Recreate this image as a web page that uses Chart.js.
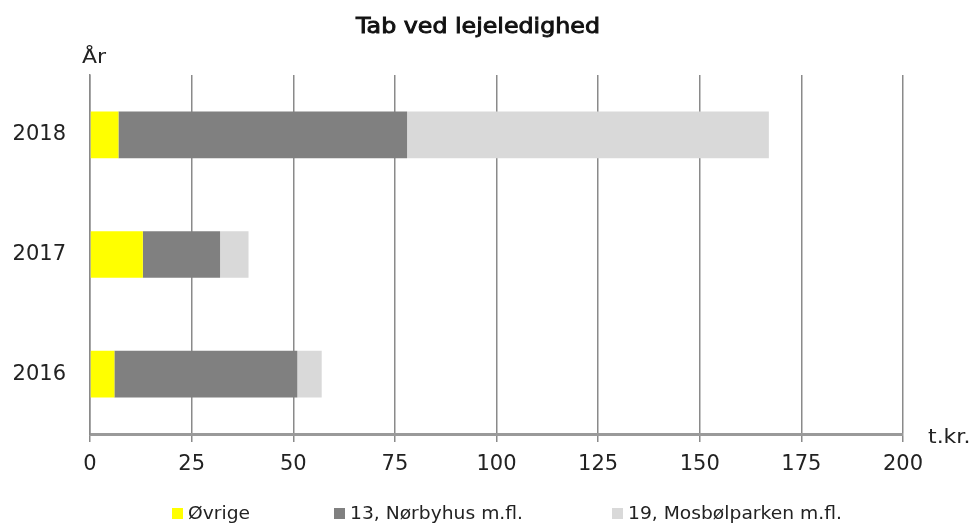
<!DOCTYPE html>
<html lang="da">
<head>
    <meta charset="UTF-8">
    <title>Tab ved lejeledighed</title>
    <script src="https://cdn.jsdelivr.net/npm/chart.js"></script>
    <style>
        html, body {
            margin: 0;
            padding: 0;
            background: #fff;
        }
        #chartContainer {
            width: 973px;
            height: 525px;
        }
    </style>
</head>
<body>
    <div id="chartContainer">
        <canvas id="chartCanvas"></canvas>
    </div>

    <script>
        // data (t.kr.), top to bottom
        const years = ["2018", "2017", "2016"];
        const ovrige = [7, 13, 6];
        const norbyhus = [71, 19, 45];
        const mosbolparken = [89, 7, 6];
        const xTicks = [0, 25, 50, 75, 100, 125, 150, 175, 200];

        const FONT = "'DejaVu Sans', Verdana, sans-serif";

        // text stretched a little sideways like the original
        function wideText(ctx, text, x, y, sx, stroke) {
            ctx.save();
            ctx.translate(x, y);
            ctx.scale(sx, 1);
            ctx.fillText(text, 0, 0);
            if (stroke) {
                ctx.strokeStyle = ctx.fillStyle;
                ctx.lineWidth = stroke;
                ctx.strokeText(text, 0, 0);
            }
            ctx.restore();
        }

        // title, axis captions and legend drawn on the canvas
        const extras = {
            id: "extras",
            afterDraw(chart) {
                const ctx = chart.ctx;
                const area = chart.chartArea;
                ctx.save();
                ctx.textBaseline = "alphabetic";

                ctx.fillStyle = "#111";
                ctx.font = "21px " + FONT;
                ctx.textAlign = "center";
                wideText(ctx, "Tab ved lejeledighed", 478, 33, 1.13, 0.9);

                ctx.fillStyle = "#222";
                ctx.font = "20px " + FONT;
                ctx.textAlign = "left";
                wideText(ctx, "År", area.left - 8, 63, 1.1);
                wideText(ctx, "t.kr.", area.right + 25, area.bottom + 9, 1.1);

                // legend
                const legendX = [172, 334, 612];
                ctx.font = "17px " + FONT;
                chart.data.datasets.forEach((ds, i) => {
                    ctx.fillStyle = ds.backgroundColor;
                    ctx.fillRect(legendX[i], 508, 11, 11);
                    ctx.fillStyle = "#222";
                    wideText(ctx, ds.label, legendX[i] + 16, 519, 1.1);
                });
                ctx.restore();
            }
        };

        const ctx = document.getElementById("chartCanvas").getContext("2d");
        const chart = new Chart(ctx, {
            type: "bar",
            data: {
                labels: years,
                datasets: [
                    { label: "Øvrige", data: ovrige, backgroundColor: "#ffff00" },
                    { label: "13, Nørbyhus m.fl.", data: norbyhus, backgroundColor: "#808080" },
                    { label: "19, Mosbølparken m.fl.", data: mosbolparken, backgroundColor: "#d9d9d9" },
                ],
            },
            options: {
                indexAxis: "y",
                responsive: true,
                maintainAspectRatio: false,
                animation: false,
                layout: {
                    padding: { top: 75, right: 70, bottom: 46, left: 0 },
                },
                datasets: {
                    bar: {
                        categoryPercentage: 1,
                        barPercentage: 0.39,
                        borderWidth: 0,
                    },
                },
                plugins: {
                    legend: { display: false },
                    title: { display: false },
                    tooltip: { enabled: false },
                },
                scales: {
                    x: {
                        stacked: true,
                        min: 0,
                        max: 200,
                        afterBuildTicks: (scale) => {
                            scale.ticks = xTicks.map(v => ({ value: v }));
                        },
                        afterFit: (scale) => { scale.height = 45; },
                        grid: {
                            color: "#8a8a8a",
                            lineWidth: 1.5,
                            tickLength: 8,
                        },
                        border: {
                            display: true,
                            color: "#9a9a9a",
                            width: 3,
                        },
                        ticks: {
                            color: "#222",
                            padding: 10,
                            font: { family: FONT, size: 21 },
                        },
                    },
                    y: {
                        stacked: true,
                        afterFit: (scale) => { scale.width = 90; },
                        grid: { display: false },
                        border: { display: true, color: "#8a8a8a", width: 1.5 },
                        ticks: {
                            color: "#222",
                            padding: 16,
                            font: { family: FONT, size: 21 },
                        },
                    },
                },
            },
            plugins: [extras],
        });
    </script>
</body>
</html>
